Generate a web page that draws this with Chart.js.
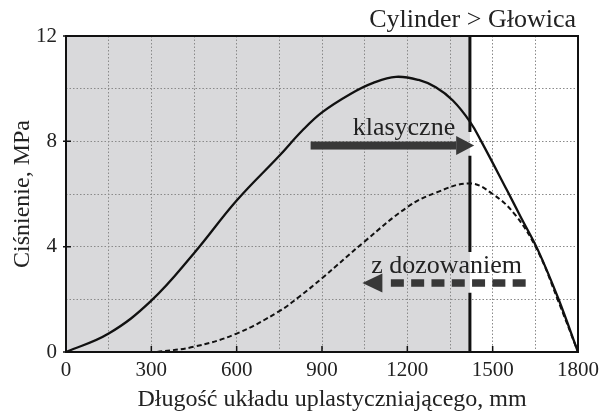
<!DOCTYPE html>
<html>
<head>
<meta charset="utf-8">
<script src="https://cdn.jsdelivr.net/npm/chart.js@4"></script>
<style>
  html, body { margin: 0; padding: 0; background: #fff; }
  #wrap { width: 605px; height: 418px; }
</style>
</head>
<body>
<div id="wrap"><canvas id="chart" width="605" height="418"></canvas></div>
<script>
// Pressure along the plasticizing unit
const classicMm = [0, 150, 300, 450, 600, 750, 830, 900, 1000, 1080, 1160, 1240, 1300, 1360, 1420, 1460, 1550, 1600, 1660, 1730, 1800];
const classicMPa = [0, 0.7, 1.95, 3.75, 5.75, 7.45, 8.4, 9.1, 9.8, 10.22, 10.45, 10.33, 10.05, 9.55, 8.75, 8.0, 6.15, 5.1, 3.85, 2.05, 0];

const dosingMm = [320, 450, 600, 750, 820, 900, 1050, 1200, 1300, 1420, 1500, 1580, 1660, 1730, 1800];
const dosingMPa = [0, 0.2, 0.7, 1.55, 2.1, 2.8, 4.2, 5.5, 6.05, 6.4, 6.0, 5.2, 3.8, 1.95, 0];

const xTickLabels = [0, 300, 600, 900, 1200, 1500, 1800];
const yTickLabels = [0, 4, 8, 12];

// cylinder / head boundary and annotations (data units)
const boundaryMm = 1420;
const lineGaps = [[7.45, 8.35], [2.25, 3.8]];
const classicArrow = { from: 860, to: 1435, p: 7.84 };
const dosingArrow = { from: 1616, to: 1042, p: 2.62 };
const classicLabel = { x: 1188, p: 8.24, text: 'klasyczne' };
const dosingLabel = { x: 1338, p: 3.0, text: 'z dozowaniem' };

const SERIF = '"Liberation Serif", "DejaVu Serif", serif';
const INK = '#222';
const ARROW = '#383838';

const toPoints = (xs, ys) => xs.map((x, i) => ({ x, y: ys[i] }));

function arrowHead(ctx, tipX, baseX, y, half) {
    ctx.beginPath();
    ctx.moveTo(tipX, y);
    ctx.lineTo(baseX, y - half);
    ctx.lineTo(baseX, y + half);
    ctx.closePath();
    ctx.fill();
}

const extras = {
    id: 'extras',
    beforeDraw(chart) {
        const { ctx, chartArea: a, scales: { x } } = chart;
        ctx.save();
        ctx.fillStyle = '#d9d9db';
        ctx.fillRect(a.left, a.top, x.getPixelForValue(boundaryMm) - a.left, a.bottom - a.top);
        ctx.restore();
    },
    beforeDatasetsDraw(chart) {
        const { ctx, chartArea: a, scales: { x, y } } = chart;
        const px = x.getPixelForValue(boundaryMm);
        // boundary line, broken where the arrows pass
        const cuts = lineGaps.map(g => [y.getPixelForValue(g[1]), y.getPixelForValue(g[0])]).sort((m, n) => m[0] - n[0]);
        ctx.save();
        ctx.strokeStyle = '#111';
        ctx.lineWidth = 3;
        let start = a.top;
        ctx.beginPath();
        cuts.forEach(([c0, c1]) => {
            ctx.moveTo(px, start);
            ctx.lineTo(px, c0);
            start = c1;
        });
        ctx.moveTo(px, start);
        ctx.lineTo(px, a.bottom);
        ctx.stroke();
        ctx.restore();
    },
    afterDatasetsDraw(chart) {
        const { ctx, scales: { x, y } } = chart;
        ctx.save();
        ctx.fillStyle = ARROW;

        // solid arrow
        let yy = y.getPixelForValue(classicArrow.p);
        let x0 = x.getPixelForValue(classicArrow.from);
        let tip = x.getPixelForValue(classicArrow.to);
        ctx.fillRect(x0, yy - 4, tip - 18 - x0, 8);
        arrowHead(ctx, tip, tip - 18, yy, 9.5);

        // dashed arrow: dashes laid out from the tail towards the head
        yy = y.getPixelForValue(dosingArrow.p);
        x0 = x.getPixelForValue(dosingArrow.from);
        tip = x.getPixelForValue(dosingArrow.to);
        const dash = 13, gap = 7.3;
        for (let d = x0; d - dash >= tip + 28; d -= dash + gap) {
            ctx.fillRect(d - dash, yy - 3.75, dash, 7.5);
        }
        arrowHead(ctx, tip, tip + 20, yy, 9.5);

        // labels
        ctx.fillStyle = INK;
        ctx.font = '26px ' + SERIF;
        ctx.textAlign = 'center';
        ctx.textBaseline = 'alphabetic';
        ctx.fillText(classicLabel.text, x.getPixelForValue(classicLabel.x), y.getPixelForValue(classicLabel.p));
        ctx.fillText(dosingLabel.text, x.getPixelForValue(dosingLabel.x), y.getPixelForValue(dosingLabel.p));
        ctx.restore();
    },
    afterDraw(chart) {
        const { ctx, chartArea: a, scales: { x, y } } = chart;
        ctx.save();
        // frame
        ctx.strokeStyle = '#111';
        ctx.lineWidth = 2;
        ctx.strokeRect(a.left, a.top, a.right - a.left, a.bottom - a.top);
        // short inward ticks
        ctx.lineWidth = 1.5;
        ctx.beginPath();
        xTickLabels.forEach(v => {
            const p = x.getPixelForValue(v);
            ctx.moveTo(p, a.bottom);
            ctx.lineTo(p, a.bottom - 6);
        });
        yTickLabels.forEach(v => {
            const p = y.getPixelForValue(v);
            ctx.moveTo(a.left - 3, p);
            ctx.lineTo(a.left + 5, p);
        });
        ctx.stroke();

        ctx.fillStyle = INK;
        ctx.textBaseline = 'alphabetic';
        ctx.font = '24px ' + SERIF;
        ctx.textAlign = 'center';
        ctx.fillText('Długość układu uplastyczniającego, mm', (a.left + a.right) / 2 + 10, 406);
        ctx.font = '26px ' + SERIF;
        ctx.textAlign = 'right';
        ctx.fillText('Cylinder > Głowica', a.right - 2, 27);
        ctx.restore();
    }
};

new Chart(document.getElementById('chart'), {
    type: 'line',
    data: {
        datasets: [{
            label: 'klasyczne',
            data: toPoints(classicMm, classicMPa),
            borderColor: '#111',
            borderWidth: 2.3,
            pointRadius: 0,
            fill: false,
            tension: 0.4
        }, {
            label: 'z dozowaniem',
            data: toPoints(dosingMm, dosingMPa),
            borderColor: '#111',
            borderWidth: 2,
            borderDash: [5, 3],
            pointRadius: 0,
            fill: false,
            tension: 0.4
        }]
    },
    options: {
        responsive: false,
        animation: false,
        events: [],
        layout: { padding: { top: 36, right: 26, left: 0, bottom: 0 } },
        plugins: { legend: { display: false }, tooltip: { enabled: false } },
        scales: {
            x: {
                type: 'linear',
                min: 0,
                max: 1800,
                afterFit: s => { s.height = 66; },
                afterBuildTicks: s => { s.ticks = []; for (let v = 0; v <= 1800; v += 150) s.ticks.push({ value: v }); },
                ticks: {
                    autoSkip: false,
                    maxRotation: 0,
                    padding: 6,
                    color: INK,
                    font: { family: SERIF, size: 21 },
                    callback: v => (xTickLabels.includes(v) ? String(v) : '')
                },
                grid: { color: '#8a8a8a', lineWidth: 1, drawTicks: false },
                border: { display: false, dash: [1.5, 2] }
            },
            y: {
                min: 0,
                max: 12,
                afterFit: s => { s.width = 66; },
                ticks: {
                    stepSize: 2,
                    autoSkip: false,
                    padding: 9,
                    color: INK,
                    font: { family: SERIF, size: 21 },
                    callback: v => (yTickLabels.includes(v) ? String(v) : '')
                },
                grid: { color: '#8a8a8a', lineWidth: 1, drawTicks: false },
                border: { display: false, dash: [1.5, 2] },
                title: {
                    display: true,
                    text: 'Ciśnienie, MPa',
                    color: INK,
                    font: { family: SERIF, size: 24 },
                    padding: { top: 8, bottom: 0 }
                }
            }
        }
    },
    plugins: [extras]
});
</script>
</body>
</html>
